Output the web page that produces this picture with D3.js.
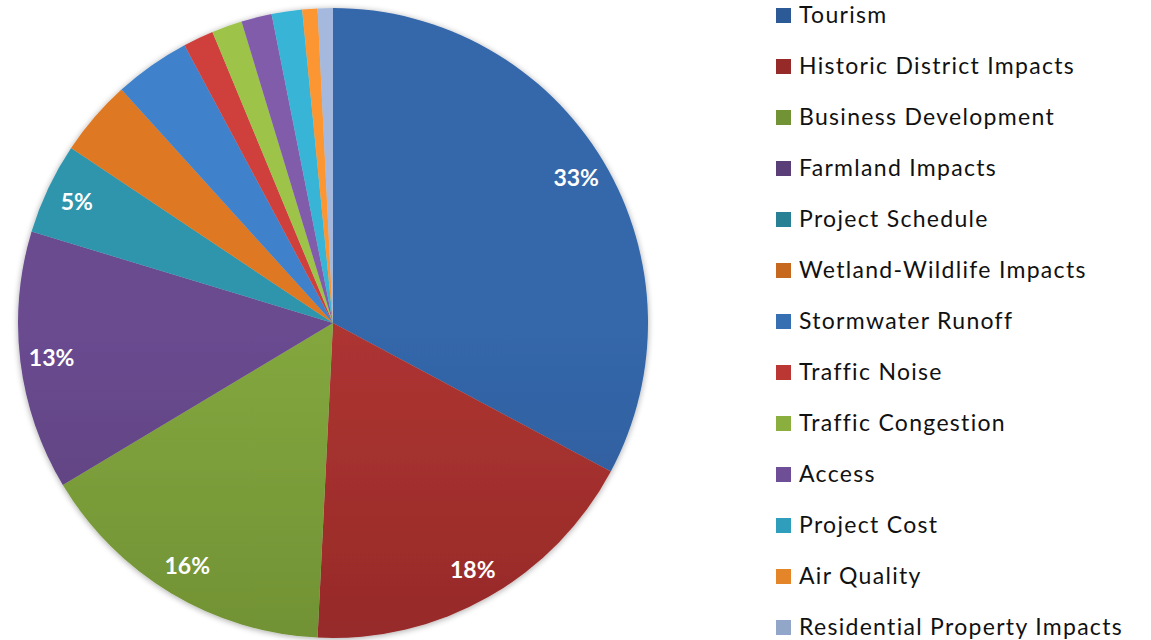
<!DOCTYPE html>
<html>
<head>
<meta charset="utf-8">
<script src="https://cdn.jsdelivr.net/npm/d3@7"></script>
<style>
  body { margin: 0; background: #fff; }
  svg { display: block; }
</style>
</head>
<body>
<div id="chart"></div>
<script>
// Data (counts give the shown percentages)
const categories = [
    "Tourism", "Historic District Impacts", "Business Development", "Farmland Impacts",
    "Project Schedule", "Wetland-Wildlife Impacts", "Stormwater Runoff", "Traffic Noise",
    "Traffic Congestion", "Access", "Project Cost", "Air Quality", "Residential Property Impacts"
];
const counts = [42, 23, 20, 17, 6, 5, 5, 2, 2, 2, 2, 1, 1];
const shownLabels = ["33%", "18%", "16%", "13%", "5%", "", "", "", "", "", "", "", ""];

// top / bottom colours of each slice gradient
const topColors = ["#3467aa", "#ad3431", "#83a73e", "#6a4b90", "#2f95ad", "#de7822",
    "#4081cb", "#cf403d", "#9dc44a", "#805cab", "#37b4d7", "#fb9633", "#a4b9dd"];
const bottomColors = ["#224c82", "#7f2020", "#5f7c2b", "#48315f", "#216b7b", "#ad5817",
    "#2c5d98", "#a42e2b", "#779a33", "#5e3f84", "#2688a3", "#cf731f", "#7f93b7"];

const W = 1151, H = 640;
const cx = 333, cy = 323, R = 315;

const svg = d3.select("#chart").append("svg")
    .attr("width", W)
    .attr("height", H);

const defs = svg.append("defs");

// soft shadow round the pie
const shadow = defs.append("filter").attr("id", "shadow")
    .attr("x", "-10%").attr("y", "-10%").attr("width", "120%").attr("height", "120%");
shadow.append("feGaussianBlur").attr("in", "SourceAlpha").attr("stdDeviation", 3);
shadow.append("feOffset").attr("dx", 0).attr("dy", 1).attr("result", "blur");
shadow.append("feComponentTransfer").append("feFuncA").attr("type", "linear").attr("slope", 0.35);
const merge = shadow.append("feMerge");
merge.append("feMergeNode");
merge.append("feMergeNode").attr("in", "SourceGraphic");

categories.forEach((c, i) => {
    const g = defs.append("linearGradient")
        .attr("id", "grad" + i)
        .attr("gradientUnits", "userSpaceOnUse")
        .attr("x1", 0).attr("y1", cy - R)
        .attr("x2", 0).attr("y2", cy + R);
    g.append("stop").attr("offset", "0%").attr("stop-color", topColors[i]);
    g.append("stop").attr("offset", "100%").attr("stop-color", bottomColors[i]);
});

const pie = d3.pie().sort(null).value(d => d);
const arcs = pie(counts);

const arc = d3.arc().innerRadius(0).outerRadius(R);
const labelArc = d3.arc().innerRadius(R * 0.9).outerRadius(R * 0.9);

const chart = svg.append("g")
    .attr("transform", `translate(${cx}, ${cy})`);

chart.append("g")
    .attr("filter", "url(#shadow)")
    .selectAll("path")
    .data(arcs)
    .enter()
    .append("path")
    .attr("d", arc)
    .attr("fill", (d, i) => `url(#grad${i})`);

chart.selectAll(".pct")
    .data(arcs)
    .enter()
    .append("text")
    .attr("class", "pct")
    .attr("transform", d => `translate(${labelArc.centroid(d)})`)
    .attr("text-anchor", "middle")
    .attr("dy", "0.36em")
    .style("font-family", "Lato, 'Open Sans', sans-serif")
    .style("font-weight", "bold")
    .style("font-size", "23px")
    .style("fill", "#fff")
    .text((d, i) => shownLabels[i]);

// legend
const legend = svg.append("g")
    .attr("transform", "translate(776, 0)");

const item = legend.selectAll(".item")
    .data(categories)
    .enter()
    .append("g")
    .attr("class", "item")
    .attr("transform", (d, i) => `translate(0, ${8 + i * 51})`);

item.append("rect")
    .attr("width", 15)
    .attr("height", 15)
    .attr("fill", (d, i) => d3.interpolateRgb(topColors[i], bottomColors[i])(0.5));

item.append("text")
    .attr("x", 23)
    .attr("y", 15)
    .style("font-family", "Lato, 'Open Sans', sans-serif")
    .style("font-size", "23px")
    .style("letter-spacing", "1.3px")
    .style("fill", "#111")
    .text(d => d);
</script>
</body>
</html>
